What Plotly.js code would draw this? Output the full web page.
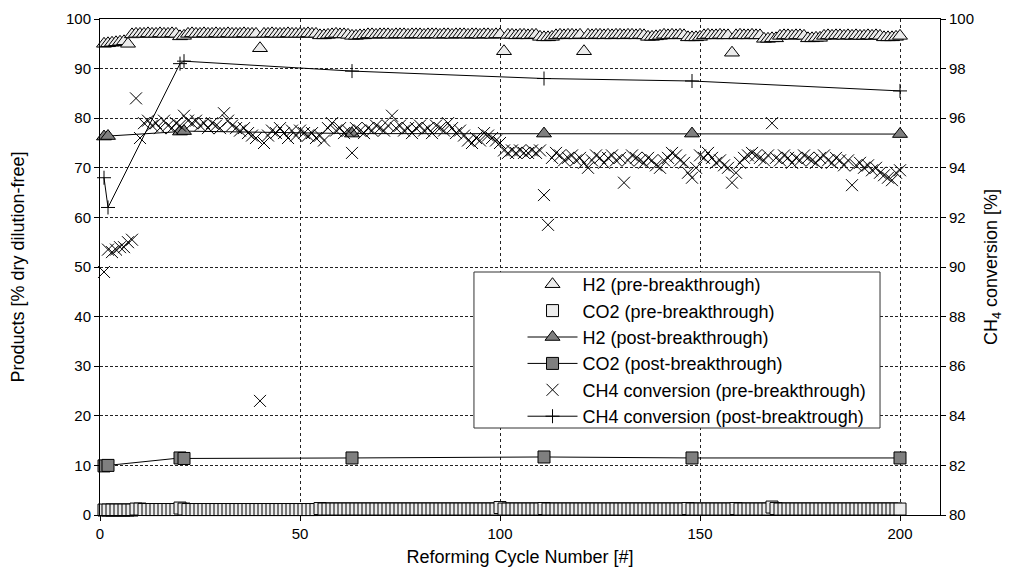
<!DOCTYPE html>
<html><head><meta charset="utf-8">
<script src="https://cdn.plot.ly/plotly-3.0.1.min.js"></script>
<style>html,body{margin:0;padding:0;background:#fff}#chart{width:1013px;height:573px}</style>
</head><body><div id="chart"></div>
<script>
const cycles = [
 1,2,3,4,5,6,7,8,9,10,11,12,13,14,15,16,17,18,19,20,
 21,22,23,24,25,26,27,28,29,30,31,32,33,34,35,36,37,38,39,40,
 41,42,43,44,45,46,47,48,49,50,51,52,53,54,55,56,57,58,59,60,
 61,62,63,64,65,66,67,68,69,70,71,72,73,74,75,76,77,78,79,80,
 81,82,83,84,85,86,87,88,89,90,91,92,93,94,95,96,97,98,99,100,
 101,102,103,104,105,106,107,108,109,110,111,112,113,114,115,116,117,118,119,120,
 121,122,123,124,125,126,127,128,129,130,131,132,133,134,135,136,137,138,139,140,
 141,142,143,144,145,146,147,148,149,150,151,152,153,154,155,156,157,158,159,160,
 161,162,163,164,165,166,167,168,169,170,171,172,173,174,175,176,177,178,179,180,
 181,182,183,184,185,186,187,188,189,190,191,192,193,194,195,196,197,198,199,200];

const h2Pre = [
 95.0,95.1,95.2,95.3,95.4,95.5,95.0,96.9,97.0,97.0,
 97.0,97.1,97.0,97.0,97.1,97.0,97.0,97.1,97.0,96.5,
 96.6,97.0,97.1,97.0,97.0,97.1,97.0,97.0,97.1,97.0,
 97.0,97.1,97.0,97.0,97.0,97.1,97.0,97.0,97.0,94.1,
 97.0,97.0,97.1,97.0,97.0,97.0,97.1,97.0,97.0,97.0,
 97.0,97.1,97.0,97.0,96.7,96.7,96.8,96.9,97.0,96.9,
 96.9,96.8,96.6,96.6,96.7,96.7,96.9,96.9,96.8,96.9,
 96.9,96.9,96.8,96.9,96.9,96.9,96.8,96.9,96.9,96.9,
 96.8,96.9,96.9,96.9,96.8,96.9,96.9,96.8,96.9,96.9,
 96.9,96.8,96.9,96.9,96.8,96.9,96.9,96.8,96.9,96.9,
 93.5,96.8,96.8,96.7,96.8,96.8,96.7,96.8,96.8,96.4,
 96.3,96.3,96.4,96.7,96.8,96.7,96.8,96.8,96.7,96.8,
 93.5,96.8,96.7,96.8,96.8,96.7,96.8,96.7,96.8,96.8,
 96.7,96.8,96.8,96.7,96.8,96.7,96.4,96.4,96.5,96.6,
 96.8,96.7,96.8,96.7,96.8,96.7,96.3,96.3,96.3,96.4,
 96.7,96.8,96.7,96.7,96.8,96.7,96.7,93.2,96.7,96.8,
 96.7,96.7,96.8,96.7,96.7,96.0,96.0,96.1,96.1,96.6,
 96.7,96.7,96.6,96.7,96.7,96.6,96.1,96.1,96.2,96.2,
 96.6,96.7,96.6,96.7,96.7,96.6,96.7,96.6,96.7,96.6,
 96.6,96.7,96.6,96.7,96.6,96.3,96.3,96.3,96.4,96.6];

const co2Pre = [
 1.0,1.0,1.0,1.0,1.0,1.0,1.0,1.0,1.2,1.2,
 1.1,1.1,1.1,1.1,1.1,1.1,1.1,1.1,1.1,1.4,
 1.2,1.1,1.1,1.1,1.1,1.1,1.1,1.1,1.1,1.1,
 1.1,1.1,1.1,1.1,1.1,1.1,1.1,1.1,1.1,1.1,
 1.1,1.1,1.1,1.1,1.1,1.1,1.1,1.1,1.1,1.1,
 1.1,1.1,1.1,1.1,1.3,1.2,1.2,1.2,1.2,1.2,
 1.2,1.2,1.2,1.2,1.2,1.2,1.2,1.2,1.2,1.2,
 1.2,1.2,1.2,1.2,1.2,1.2,1.2,1.2,1.2,1.2,
 1.2,1.2,1.2,1.2,1.2,1.2,1.2,1.2,1.2,1.2,
 1.2,1.2,1.2,1.2,1.2,1.2,1.2,1.2,1.2,1.5,
 1.2,1.2,1.2,1.2,1.2,1.2,1.2,1.2,1.2,1.2,
 1.3,1.2,1.2,1.2,1.2,1.2,1.2,1.2,1.2,1.2,
 1.2,1.2,1.2,1.2,1.2,1.2,1.2,1.2,1.2,1.2,
 1.2,1.2,1.2,1.2,1.2,1.2,1.2,1.2,1.2,1.2,
 1.2,1.2,1.2,1.2,1.2,1.2,1.3,1.2,1.2,1.2,
 1.2,1.2,1.2,1.2,1.2,1.2,1.2,1.2,1.3,1.2,
 1.2,1.2,1.2,1.2,1.2,1.2,1.2,1.6,1.3,1.2,
 1.2,1.2,1.2,1.2,1.2,1.2,1.2,1.2,1.2,1.2,
 1.2,1.2,1.2,1.2,1.2,1.2,1.2,1.2,1.2,1.2,
 1.2,1.2,1.2,1.2,1.2,1.2,1.2,1.2,1.2,1.2];

const ch4Pre = [
 89.8,90.7,90.6,90.7,90.8,90.8,91.0,91.1,96.8,95.2,
 95.8,95.9,95.7,95.8,95.6,95.9,95.7,95.6,95.8,95.7,
 96.1,95.9,95.8,95.9,95.7,95.8,95.6,95.8,95.7,95.6,
 96.2,95.9,95.7,95.6,95.5,95.6,95.4,95.3,95.2,84.6,
 95.0,95.3,95.5,95.4,95.6,95.4,95.2,95.5,95.3,95.5,
 95.4,95.3,95.4,95.2,95.3,95.1,95.6,95.8,95.5,95.6,
 95.4,95.5,94.6,95.6,95.5,95.4,95.6,95.5,95.7,95.6,
 95.5,95.7,96.1,95.6,95.7,95.5,95.6,95.4,95.6,95.7,
 95.5,95.6,95.4,95.7,95.6,95.5,95.8,95.6,95.4,95.5,
 95.3,95.1,95.0,95.2,95.1,95.4,95.3,95.2,95.1,95.0,
 94.7,94.6,94.7,94.6,94.7,94.6,94.6,94.7,94.6,94.7,
 92.9,91.7,94.4,94.6,94.5,94.3,94.4,94.5,94.3,94.4,
 94.2,94.0,94.3,94.5,94.4,94.2,94.4,94.5,94.3,94.4,
 93.4,94.3,94.5,94.4,94.3,94.2,94.4,94.3,94.1,94.0,
 94.3,94.4,94.6,94.5,94.3,94.2,93.8,93.6,94.0,94.5,
 94.4,94.6,94.4,94.2,94.3,94.1,94.0,93.4,93.8,94.2,
 94.4,94.5,94.6,94.5,94.4,94.3,94.5,95.8,94.4,94.3,
 94.5,94.4,94.2,94.4,94.3,94.5,94.4,94.3,94.2,94.4,
 94.5,94.3,94.2,94.4,94.3,94.1,94.3,93.3,94.1,94.2,
 94.0,94.1,93.9,94.0,93.8,93.7,93.6,93.5,93.8,93.9];

const postCycles = [1, 2, 20, 21, 63, 111, 148, 200];
const h2Post  = [76.3, 76.4, 77.3, 77.4, 76.9, 76.9, 76.9, 76.8];
const co2Post = [9.9, 10.0, 11.5, 11.4, 11.5, 11.7, 11.5, 11.5];
const ch4Post = [93.6, 92.4, 98.2, 98.3, 97.9, 97.6, 97.5, 97.1];

const seriesNames = [
 'H2 (pre-breakthrough)', 'CO2 (pre-breakthrough)', 'H2 (post-breakthrough)',
 'CO2 (post-breakthrough)', 'CH4 conversion (pre-breakthrough)', 'CH4 conversion (post-breaktrough)'];

const LIGHT = '#ececec', DARK = '#7f7f7f', INK = '#000';

const traces = [
 {x: cycles, y: h2Pre, name: seriesNames[0], mode: 'markers', cliponaxis: false,
  marker: {symbol: 'triangle-up', size: 13, color: LIGHT, line: {color: INK, width: 1}}},
 {x: cycles, y: co2Pre, name: seriesNames[1], mode: 'markers', cliponaxis: false,
  marker: {symbol: 'square', size: 12, color: LIGHT, line: {color: INK, width: 1}}},
 {x: postCycles, y: h2Post, name: seriesNames[2], mode: 'lines+markers', cliponaxis: false,
  line: {color: INK, width: 1},
  marker: {symbol: 'triangle-up', size: 13, color: DARK, line: {color: INK, width: 1}}},
 {x: postCycles, y: co2Post, name: seriesNames[3], mode: 'lines+markers', cliponaxis: false,
  line: {color: INK, width: 1},
  marker: {symbol: 'square', size: 12, color: DARK, line: {color: INK, width: 1}}},
 {x: cycles, y: ch4Pre, name: seriesNames[4], mode: 'markers', yaxis: 'y2', cliponaxis: false,
  marker: {symbol: 'x-thin-open', size: 12, color: INK, line: {color: INK, width: 1}}},
 {x: postCycles, y: ch4Post, name: seriesNames[5], mode: 'lines+markers', yaxis: 'y2', cliponaxis: false,
  line: {color: INK, width: 1},
  marker: {symbol: 'cross-thin-open', size: 10, color: INK, line: {color: INK, width: 1}}}
];

const axisCommon = {
 showline: true, linecolor: INK, linewidth: 1, ticks: 'outside', ticklen: 5, tickcolor: INK,
 zeroline: false, tickfont: {size: 15, color: INK}
};

const layout = {
 width: 1013, height: 573,
 margin: {l: 100, r: 73, t: 19, b: 58},
 paper_bgcolor: '#fff', plot_bgcolor: '#fff',
 font: {family: 'Liberation Sans, Arial, sans-serif', color: INK, size: 15},
 showlegend: true,
 legend: {x: 0.503, y: 0.502, xanchor: 'left', yanchor: 'top', bgcolor: 'rgba(0,0,0,0)',
  borderwidth: 0, itemwidth: 50, font: {size: 18, color: INK}, tracegroupgap: 0},
 shapes: [
  {type: 'rect', xref: 'paper', yref: 'paper', x0: 0.4452, x1: 0.9286, y0: 0.1754, y1: 0.4899,
   fillcolor: '#fff', line: {color: '#333', width: 1}, layer: 'above'}
 ],
 xaxis: Object.assign({}, axisCommon, {
  range: [0, 210], tickvals: [0, 50, 100, 150, 200], mirror: true,
  showgrid: true, gridcolor: '#222', griddash: 'dot', gridwidth: 1,
  title: {text: 'Reforming Cycle Number [#]', font: {size: 18, color: INK}, standoff: 9}
 }),
 yaxis: Object.assign({}, axisCommon, {
  range: [0, 100], dtick: 10,
  showgrid: true, gridcolor: '#222', griddash: '3px,2px', gridwidth: 1,
  title: {text: 'Products [% dry dilution-free]', font: {size: 18, color: INK}, standoff: 36}
 }),
 yaxis2: Object.assign({}, axisCommon, {
  overlaying: 'y', side: 'right', range: [80, 100], dtick: 2, showgrid: false,
  title: {text: 'CH<sub>4</sub> conversion [%]', font: {size: 18, color: INK}, standoff: 11}
 })
};

Plotly.newPlot('chart', traces, layout, {displayModeBar: false, staticPlot: true});
</script>
</body></html>
